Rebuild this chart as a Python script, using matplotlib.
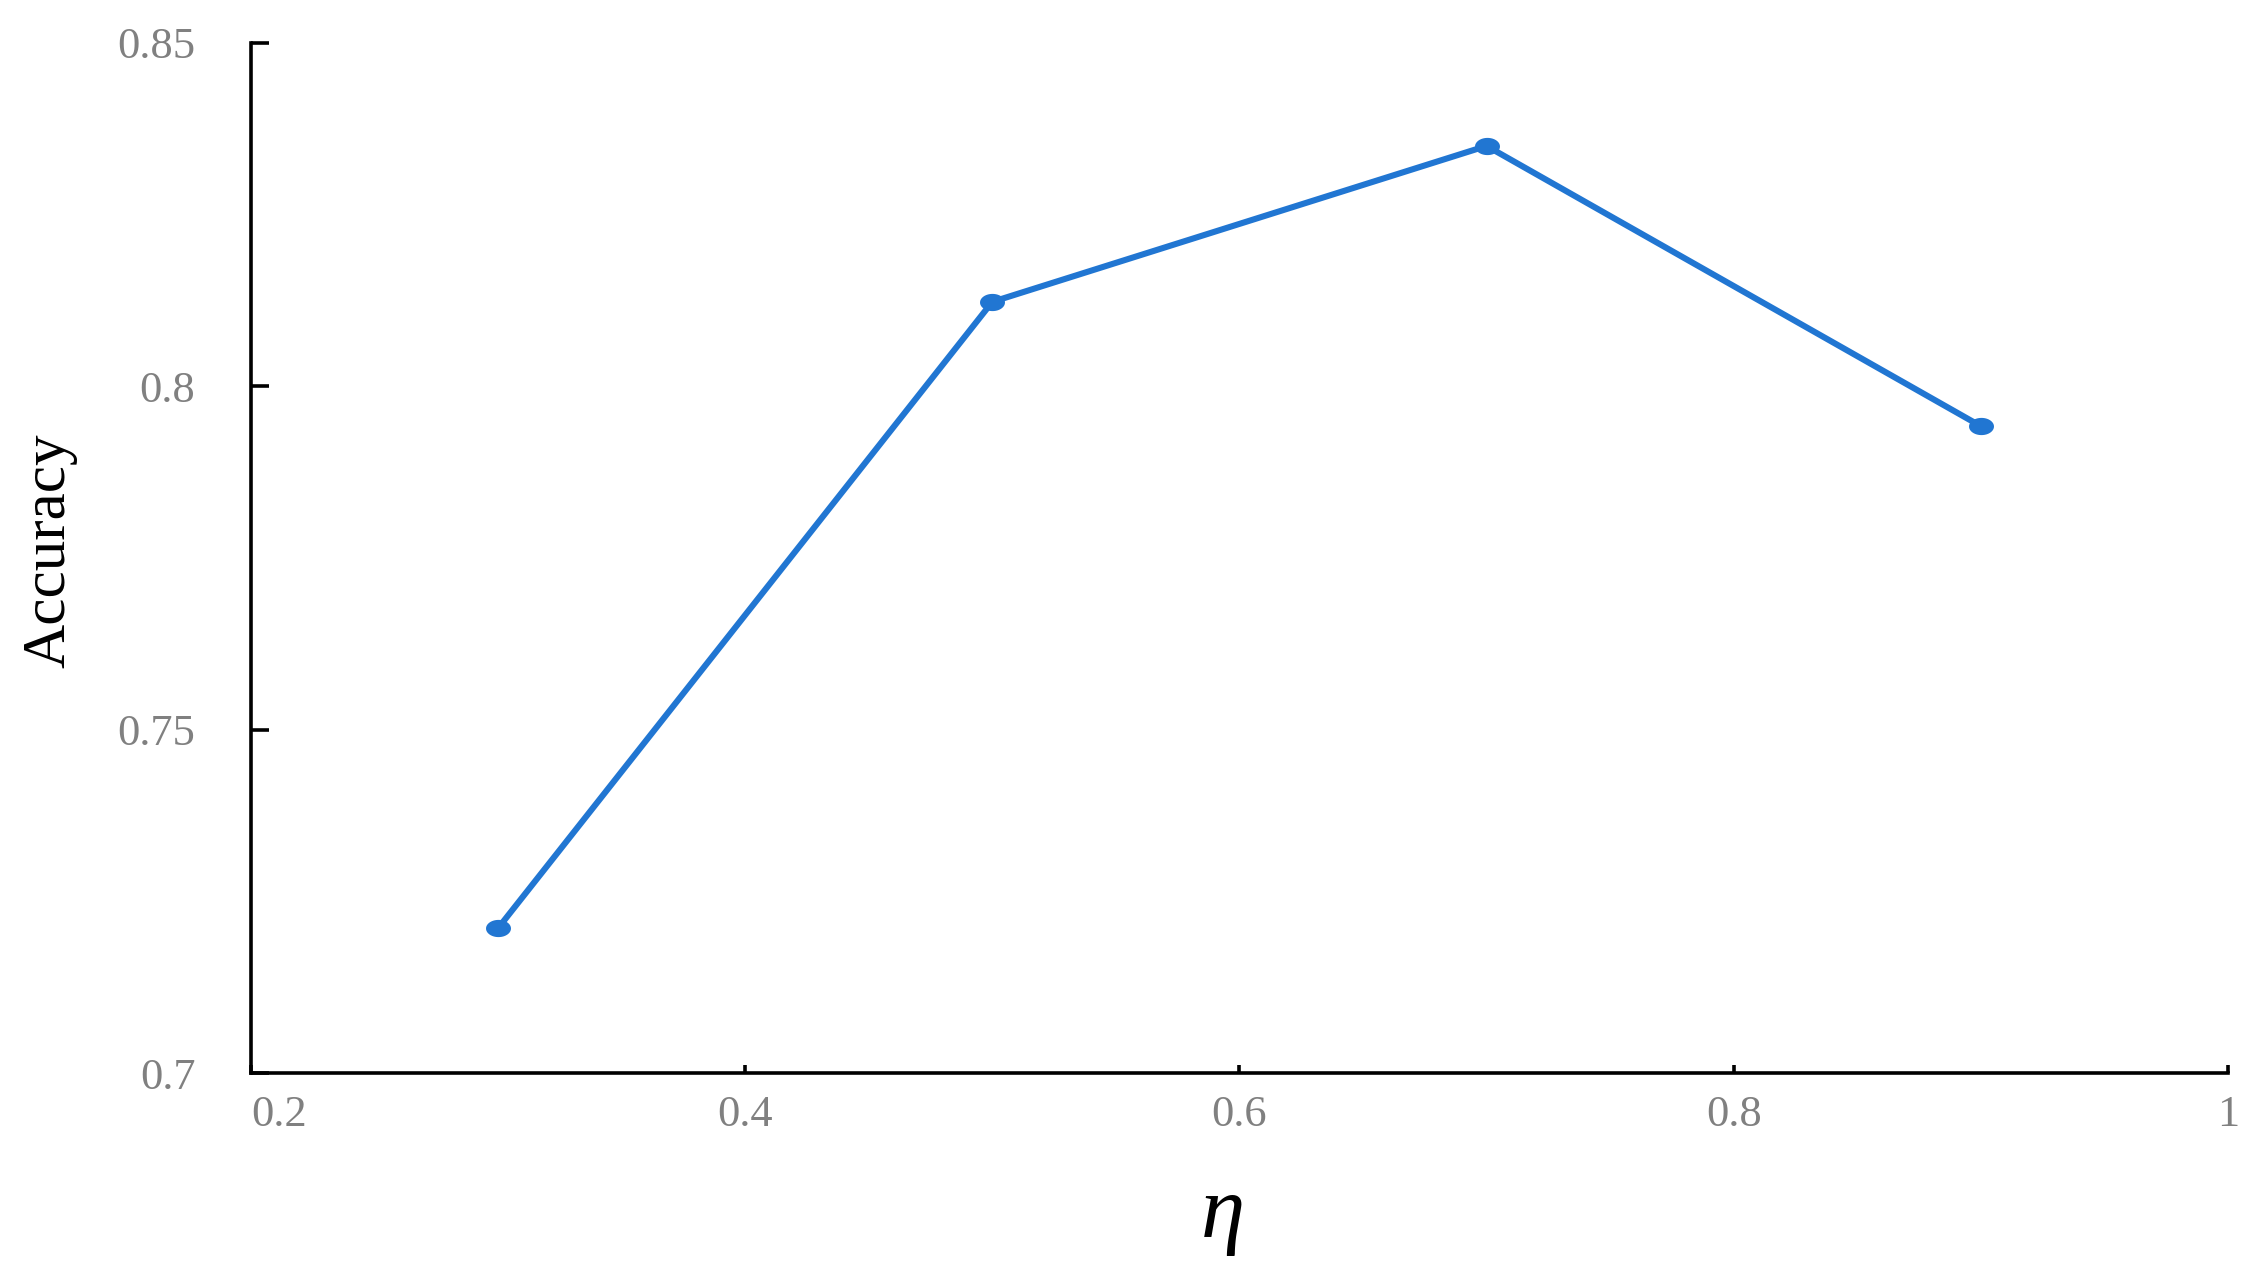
import matplotlib
matplotlib.use("Agg")
import matplotlib.pyplot as plt
import numpy as np

eta = [0.3, 0.5, 0.7, 0.9]
accuracy = [0.7211, 0.8123, 0.8350, 0.7942]

x_ticks = [0.2, 0.4, 0.6, 0.8, 1.0]
x_labels = ['0.2', '0.4', '0.6', '0.8', '1']
y_ticks = [0.7, 0.75, 0.8, 0.85]
y_labels = ['0.7', '0.75', '0.8', '0.85']

plt.rcParams['font.family'] = ['Liberation Serif', 'DejaVu Serif']

# slightly flattened dot, like the original markers
t = np.linspace(0, 2 * np.pi, 40)
blob = np.column_stack([1.45 * np.cos(t), np.sin(t)])

fig = plt.figure(figsize=(22.63, 12.82), dpi=100)
ax = fig.add_axes([0.1109, 0.1630, 0.8736, 0.8035])

ax.plot(eta, accuracy, color='#2176d2', linewidth=4.4,
        marker=blob, markersize=18, markeredgewidth=0, solid_capstyle='round')

ax.set_xlim(0.2, 1.0)
ax.set_ylim(0.7, 0.85)
ax.set_xticks(x_ticks)
ax.set_xticklabels(x_labels)
ax.set_yticks(y_ticks)
ax.set_yticklabels(y_labels)

for s in ['top', 'right']:
    ax.spines[s].set_visible(False)
for s in ['left', 'bottom']:
    ax.spines[s].set_linewidth(2.6)
    ax.spines[s].set_color('black')

ax.tick_params(axis='y', direction='in', length=13, width=2.6, pad=40,
               labelsize=32, labelcolor='#808080')
ax.tick_params(axis='x', direction='in', length=6, width=2.6, pad=16,
               labelsize=32, labelcolor='#808080')
ax.get_xticklabels()[0].set_horizontalalignment('left')

ax.set_ylabel('Accuracy', fontsize=44, color='black', va='center')
ax.yaxis.set_label_coords(-0.1017, 0.507)

fig.text(0.5404, 0.0351, 'η', fontsize=64, fontstyle='italic',
         ha='center', va='baseline', color='black')

fig.savefig('out.png', dpi=100, facecolor='white')
